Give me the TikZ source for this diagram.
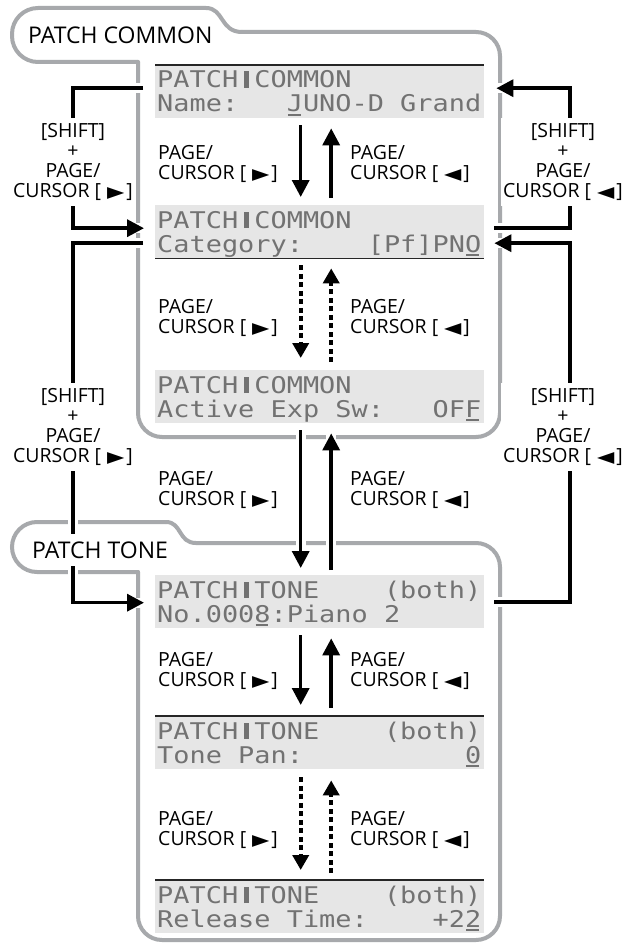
\documentclass[tikz,border=0pt]{standalone}
\usepackage{fontspec}
\usepackage{graphicx}
\setmainfont{Open Sans}
\newfontfamily\lcdfont[FakeStretch=1.17]{DejaVu Sans Mono}
\newfontfamily\symfont{DejaVu Sans}
\usetikzlibrary{arrows.meta,calc}
\definecolor{framegray}{HTML}{A7A9AC}
\definecolor{lcdbg}{HTML}{E6E6E6}
\definecolor{lcdink}{HTML}{727272}
\newcommand\myR{\hspace{6pt}\scalebox{1.45}[1]{\symfont\fontsize{15.5}{15.5}\selectfont ▶}\hspace{2pt}}
\newcommand\myL{\hspace{6pt}\scalebox{1.45}[1]{\symfont\fontsize{15.5}{15.5}\selectfont ◀}\hspace{2pt}}
\newcommand\lcdcur[1]{\rlap{\hspace{0.05em}\rule[-4pt]{0.55em}{2pt}}#1}
\newcommand\lcdsep{\makebox[16.2pt][c]{\rule{5pt}{16.5pt}}}
\tikzset{
  grayframe/.style={draw=framegray, line width=4pt, line cap=round},
  conn/.style={line width=3.5pt, draw=black, preaction={draw=white, line width=10pt, arrows=-}},
  dotconn/.style={line width=4pt, draw=black, dash pattern=on 5pt off 3.5pt},
  arrowed/.style={-{Triangle[length=17pt,width=17pt]}},
  dotarrowed/.style={-{Triangle[length=15pt,width=16pt]}},
  lcd/.style={fill=lcdbg, minimum width=329pt, minimum height=53pt, inner sep=0pt, anchor=north west},
  lcdtext/.style={font=\lcdfont\fontsize{23}{23}\selectfont\frenchspacing, text=lcdink, inner sep=0pt, anchor=base west},
  lcdline/.style={line width=1.5pt, draw=black!85},
  pagelbl/.style={font=\fontsize{19.5}{20}\selectfont, align=left, inner sep=0pt, anchor=west},
  shiftlbl/.style={font=\fontsize{19.5}{20}\selectfont, align=center, fill=white, inner xsep=2pt, inner ysep=5pt},
  tabtext/.style={font=\fontsize{23}{23}\selectfont, anchor=west, inner xsep=4pt, inner ysep=8pt}
}
\begin{document}
\begin{tikzpicture}[x=1pt,y=-1pt]
\useasboundingbox (0,0) rectangle (626,947);
\fill[white] (0,0) rectangle (626,947);

% group frames
\draw[grayframe, rounded corners=26pt] (138,62) -- (12,62) -- (12,8) -- (206,8);
\draw[grayframe] (206,8) .. controls (224,8) and (220,32) .. (242,32);
\draw[grayframe, rounded corners=24pt] (242,32) -- (500,32) -- (500,437) -- (138,437) -- (138,62);
\draw[grayframe, rounded corners=25pt] (138,572) -- (12,572) -- (12,522) -- (166,522);
\draw[grayframe] (166,522) .. controls (182,522) and (178,543) .. (196,543);
\draw[grayframe, rounded corners=24pt] (196,543) -- (500,543) -- (500,940) -- (138,940) -- (138,572);

% screens
\node[lcd] (s1) at (155,65) {};
\node[lcd] (s2) at (155,205) {};
\node[lcd] (s3) at (155,370) {};
\node[lcd] (s4) at (155,575) {};
\node[lcd] (s5) at (155,716) {};
\node[lcd] (s6) at (155,880) {};
\draw[lcdline] (s1.north west) -- (s1.north east);
\draw[lcdline] (s2.south west) -- (s2.south east);
\draw[lcdline] (s5.north west) -- (s5.north east);
\draw[lcdline] (s6.north west) -- (s6.north east);

\node[lcdtext] (s1a) at ([shift={(2,23)}]s1.north west) {PATCH\lcdsep COMMON};
\node[lcdtext] (s1b) at ([shift={(2,47)}]s1.north west) {Name:~~~\lcdcur{J}UNO-D~Grand};
\node[lcdtext] (s2a) at ([shift={(2,23)}]s2.north west) {PATCH\lcdsep COMMON};
\node[lcdtext] (s2b) at ([shift={(2,47)}]s2.north west) {Category:~~~~[Pf]PN\lcdcur{O}};
\node[lcdtext] (s3a) at ([shift={(2,23)}]s3.north west) {PATCH\lcdsep COMMON};
\node[lcdtext] (s3b) at ([shift={(2,47)}]s3.north west) {Active~Exp~Sw:~~~OF\lcdcur{F}};
\node[lcdtext] (s4a) at ([shift={(2,23)}]s4.north west) {PATCH\lcdsep TONE~~~~(both)};
\node[lcdtext] (s4b) at ([shift={(2,47)}]s4.north west) {No.000\lcdcur{8}:Piano~2};
\node[lcdtext] (s5a) at ([shift={(2,23)}]s5.north west) {PATCH\lcdsep TONE~~~~(both)};
\node[lcdtext] (s5b) at ([shift={(2,47)}]s5.north west) {Tone~Pan:~~~~~~~~~~\lcdcur{0}};
\node[lcdtext] (s6a) at ([shift={(2,23)}]s6.north west) {PATCH\lcdsep TONE~~~~(both)};
\node[lcdtext] (s6b) at ([shift={(2,47)}]s6.north west) {Release~Time:~~~~+2\lcdcur{2}};

% vertical page arrows
\draw[conn,arrowed] ([shift={(-19,7)}]s1.south) -- ([shift={(-19,-8)}]s2.north);
\draw[conn,arrowed] ([shift={(11.5,-7)}]s2.north) -- ([shift={(11.5,10)}]s1.south);
\draw[dotconn,dotarrowed] ([shift={(-19,7)}]s2.south) -- ([shift={(-19,-12)}]s3.north);
\draw[dotconn,dotarrowed] ([shift={(11.5,-8)}]s3.north) -- ([shift={(11.5,10)}]s2.south);
\draw[conn,arrowed] ([shift={(-19,7)}]s3.south) -- ([shift={(-19,-7)}]s4.north);
\draw[conn,arrowed] ([shift={(11.5,-5)}]s4.north) -- ([shift={(11.5,10)}]s3.south);
\draw[conn,arrowed] ([shift={(-19,7)}]s4.south) -- ([shift={(-19,-11)}]s5.north);
\draw[conn,arrowed] ([shift={(11.5,-8)}]s5.north) -- ([shift={(11.5,10)}]s4.south);
\draw[dotconn,dotarrowed] ([shift={(-19,8)}]s5.south) -- ([shift={(-19,-10)}]s6.north);
\draw[dotconn,dotarrowed] ([shift={(11.5,-7)}]s6.north) -- ([shift={(11.5,11)}]s5.south);

% side connectors
\coordinate (LAc) at (73,160);
\coordinate (LBc) at (73,420);
\coordinate (RAc) at (570,160);
\coordinate (RBc) at (570,420);
\draw[conn,arrowed] ([shift={(-12,-3.5)}]s1.west) -| (LAc) |- ([shift={(-11,-3.5)}]s2.west);
\draw[conn,arrowed] ([shift={(-12,11.5)}]s2.west) -| (LBc) |- ([shift={(-11,1)}]s4.west);
\draw[conn,arrowed] ([shift={(10,-3.5)}]s2.east) -| (RAc) |- ([shift={(12,-3.5)}]s1.east);
\draw[conn,arrowed] ([shift={(10,0.5)}]s4.east) -| (RBc) |- ([shift={(10,11.5)}]s2.east);

% labels
\node[pagelbl] (l12) at (158,164) {PAGE/\\CURSOR [\myR]};
\node[pagelbl] (r12) at (350,164) {PAGE/\\CURSOR [\myL]};
\node[pagelbl] (l23) at (158,318) {PAGE/\\CURSOR [\myR]};
\node[pagelbl] (r23) at (350,318) {PAGE/\\CURSOR [\myL]};
\node[pagelbl] (l34) at (158,490) {PAGE/\\CURSOR [\myR]};
\node[pagelbl] (r34) at (350,490) {PAGE/\\CURSOR [\myL]};
\node[pagelbl] (l45) at (158,671) {PAGE/\\CURSOR [\myR]};
\node[pagelbl] (r45) at (350,671) {PAGE/\\CURSOR [\myL]};
\node[pagelbl] (l56) at (158,830) {PAGE/\\CURSOR [\myR]};
\node[pagelbl] (r56) at (350,830) {PAGE/\\CURSOR [\myL]};

\node[shiftlbl] (lsA) at (73,162) {[SHIFT]\\+\\PAGE/\\CURSOR [\myR]};
\node[shiftlbl] (lsB) at (73,427) {[SHIFT]\\+\\PAGE/\\CURSOR [\myR]};
\node[shiftlbl] (rsA) at (563,162) {[SHIFT]\\+\\PAGE/\\CURSOR [\myL]};
\node[shiftlbl] (rsB) at (563,427) {[SHIFT]\\+\\PAGE/\\CURSOR [\myL]};

% tab titles
\node[tabtext] (tc) at (24,35) {PATCH COMMON};
\node[tabtext, fill=white] (tt) at (28,550) {PATCH TONE};
\end{tikzpicture}
\end{document}
